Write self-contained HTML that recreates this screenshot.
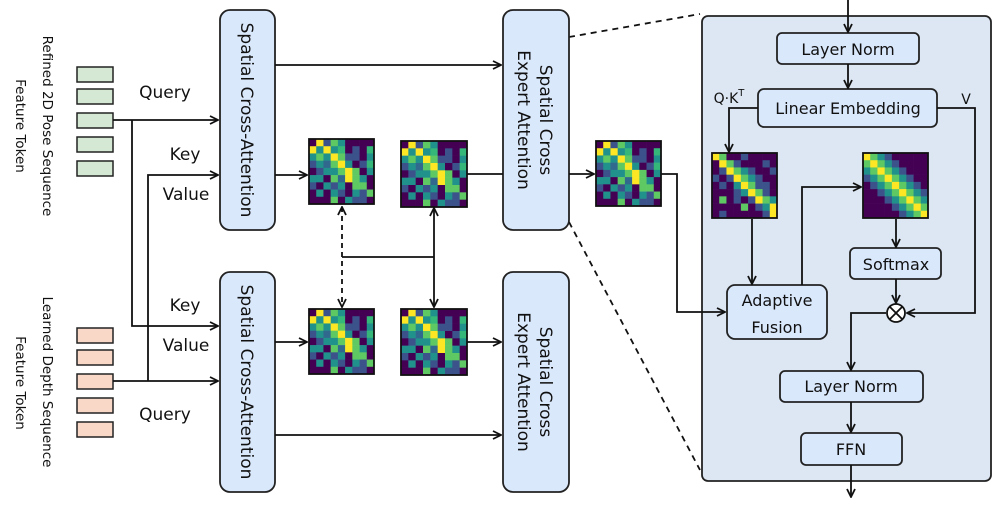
<!DOCTYPE html>
<html><head><meta charset="utf-8"><style>
html,body{margin:0;padding:0;background:#fff}
svg{display:block;font-family:"DejaVu Sans","Liberation Sans",sans-serif}
</style></head><body>
<svg id="s" width="997" height="514" viewBox="0 0 997 514" xmlns="http://www.w3.org/2000/svg">
<defs>
<marker id="a" viewBox="0 0 10 10" refX="9" refY="5" markerWidth="10" markerHeight="10" orient="auto-start-reverse" markerUnits="userSpaceOnUse"><path d="M1,1 L9,5 L1,9" fill="none" stroke="#111" stroke-width="1.8"/></marker>
</defs>
<g stroke="#111" stroke-width="1.8" fill="none">
<line x1="569" y1="37" x2="700" y2="14" stroke-dasharray="6,5"/>
<line x1="569" y1="222" x2="700" y2="470" stroke-dasharray="6,5"/>
</g>
<rect x="702" y="16" width="289" height="465" rx="6" fill="#dce7f3" stroke="#222" stroke-width="1.8"/>
<g stroke="#222" stroke-width="1.5">
<rect x="77" y="67" width="36" height="15" fill="#d5e8d4"/>
<rect x="77" y="89" width="36" height="15" fill="#d5e8d4"/>
<rect x="77" y="113" width="36" height="15" fill="#d5e8d4"/>
<rect x="77" y="137" width="36" height="15" fill="#d5e8d4"/>
<rect x="77" y="161" width="36" height="15" fill="#d5e8d4"/>
<rect x="77" y="328" width="36" height="15" fill="#f9d8c8"/>
<rect x="77" y="350" width="36" height="15" fill="#f9d8c8"/>
<rect x="77" y="374" width="36" height="15" fill="#f9d8c8"/>
<rect x="77" y="398" width="36" height="15" fill="#f9d8c8"/>
<rect x="77" y="422" width="36" height="15" fill="#f9d8c8"/>
</g>
<g font-size="13.5" fill="#111" text-anchor="middle">
<text transform="translate(43,126) rotate(90)">Refined 2D Pose Sequence</text>
<text transform="translate(16,126) rotate(90)">Feature Token</text>
<text transform="translate(43,382) rotate(90)">Learned Depth Sequence</text>
<text transform="translate(16,383) rotate(90)">Feature Token</text>
</g>
<g fill="#dae8fc" stroke="#222" stroke-width="1.8">
<rect x="220" y="10" width="55" height="220" rx="10"/>
<rect x="220" y="272" width="55" height="220" rx="10"/>
<rect x="503" y="10" width="66" height="220" rx="10"/>
<rect x="503" y="272" width="66" height="220" rx="10"/>
<rect x="777" y="33" width="142" height="31" rx="5"/>
<rect x="758" y="89" width="179" height="38" rx="6"/>
<rect x="727" y="285" width="100" height="54" rx="8"/>
<rect x="850" y="248" width="91" height="31" rx="5"/>
<rect x="780" y="371" width="143" height="31" rx="5"/>
<rect x="801" y="433" width="101" height="32" rx="5"/>
</g>
<g font-size="17" fill="#111" text-anchor="middle">
<text transform="translate(241,120) rotate(90)">Spatial Cross-Attention</text>
<text transform="translate(241,382) rotate(90)">Spatial Cross-Attention</text>
<text transform="translate(540,120) rotate(90)">Spatial Cross</text>
<text transform="translate(518,120) rotate(90)">Expert Attention</text>
<text transform="translate(540,382) rotate(90)">Spatial Cross</text>
<text transform="translate(518,382) rotate(90)">Expert Attention</text>
<text x="165" y="98">Query</text>
<text x="185" y="160">Key</text>
<text x="186" y="200">Value</text>
<text x="185" y="311">Key</text>
<text x="186" y="351">Value</text>
<text x="165" y="420">Query</text>
</g>
<g font-size="16" fill="#111" text-anchor="middle">
<text x="848" y="55">Layer Norm</text>
<text x="848" y="114">Linear Embedding</text>
<text x="777" y="306">Adaptive</text>
<text x="777" y="333">Fusion</text>
<text x="896" y="270">Softmax</text>
<text x="851" y="392">Layer Norm</text>
<text x="851" y="455">FFN</text>
<text x="966" y="104" font-size="14">V</text>
<text x="729" y="103" font-size="14">Q·K<tspan font-size="10" dy="-7">T</tspan></text>
</g>
<g stroke="#111" stroke-width="1.8" fill="none">
<path d="M113,120 H218" marker-end="url(#a)"/>
<path d="M132,120 V326 H218" marker-end="url(#a)"/>
<path d="M113,381 H218" marker-end="url(#a)"/>
<path d="M148,381 V175 H218" marker-end="url(#a)"/>
<path d="M275,65 H501" marker-end="url(#a)"/>
<path d="M275,175 H307" marker-end="url(#a)"/>
<path d="M467,174 H503"/>
<path d="M569,174 H594" marker-end="url(#a)"/>
<path d="M661,174 H677 V312 H725" marker-end="url(#a)"/>
<path d="M275,342 H307" marker-end="url(#a)"/>
<path d="M467,342 H501" marker-end="url(#a)"/>
<path d="M275,435 H501" marker-end="url(#a)"/>
<path d="M342,207 V307" stroke-dasharray="5,4" marker-start="url(#a)" marker-end="url(#a)"/>
<path d="M342,257 H434"/>
<path d="M434,208 V307" marker-start="url(#a)" marker-end="url(#a)"/>
<path d="M848,0 V32" marker-end="url(#a)"/>
<path d="M848,64 V88" marker-end="url(#a)"/>
<path d="M758,108 H729 V152" marker-end="url(#a)"/>
<path d="M752,219 V284" marker-end="url(#a)"/>
<path d="M802,285 V187 H861" marker-end="url(#a)"/>
<path d="M896,219 V247" marker-end="url(#a)"/>
<path d="M896,279 V303" marker-end="url(#a)"/>
<path d="M937,108 H975 V313 H907" marker-end="url(#a)"/>
<path d="M886,313 H851 V370" marker-end="url(#a)"/>
<path d="M851,402 V432" marker-end="url(#a)"/>
<path d="M851,465 V497" marker-end="url(#a)"/>
</g>
<circle cx="896" cy="313" r="9" fill="#fff" stroke="#111" stroke-width="1.8"/>
<path d="M889.6,306.6 L902.4,319.4 M902.4,306.6 L889.6,319.4" stroke="#111" stroke-width="1.8"/>
<g id="mats"></g>
</svg>
<script>
var base=[
"041320000",
"424260106",
"232431102",
"125342016",
"012234302",
"220354320",
"102120330",
"020210213",
"000302110"];
var F=[
"430010000",
"043100010",
"014321001",
"101432100",
"010243110",
"000124310",
"030101432",
"000030124",
"010000014"];
var G=[
"432100000",
"343210000",
"234321000",
"123432100",
"012343210",
"001234321",
"000123432",
"000012343",
"000001234"];
var gp={"0":"#440154","1":"#3b528b","2":"#21918c","3":"#5ec962","4":"#fde725","5":"#31688e","6":"#35b779"};
function mat(x,y,s,m){
 var g=document.getElementById("mats"),c=s/9,h="";
 for(var i=0;i<9;i++)for(var j=0;j<9;j++){
  h+='<rect x="'+(x+j*c)+'" y="'+(y+i*c)+'" width="'+(c+0.3)+'" height="'+(c+0.3)+'" fill="'+gp[m[i][j]]+'"/>';
 }
 h+='<rect x="'+x+'" y="'+y+'" width="'+s+'" height="'+s+'" fill="none" stroke="#111" stroke-width="1.8"/>';
 g.innerHTML+=h;
}
mat(309,139,65,base);mat(401,141,66,base);mat(309,309,65,base);mat(401,309,66,base);mat(596,141,65,base);
mat(712,153,65,F);mat(863,153,65,G);
</script>
</body></html>
